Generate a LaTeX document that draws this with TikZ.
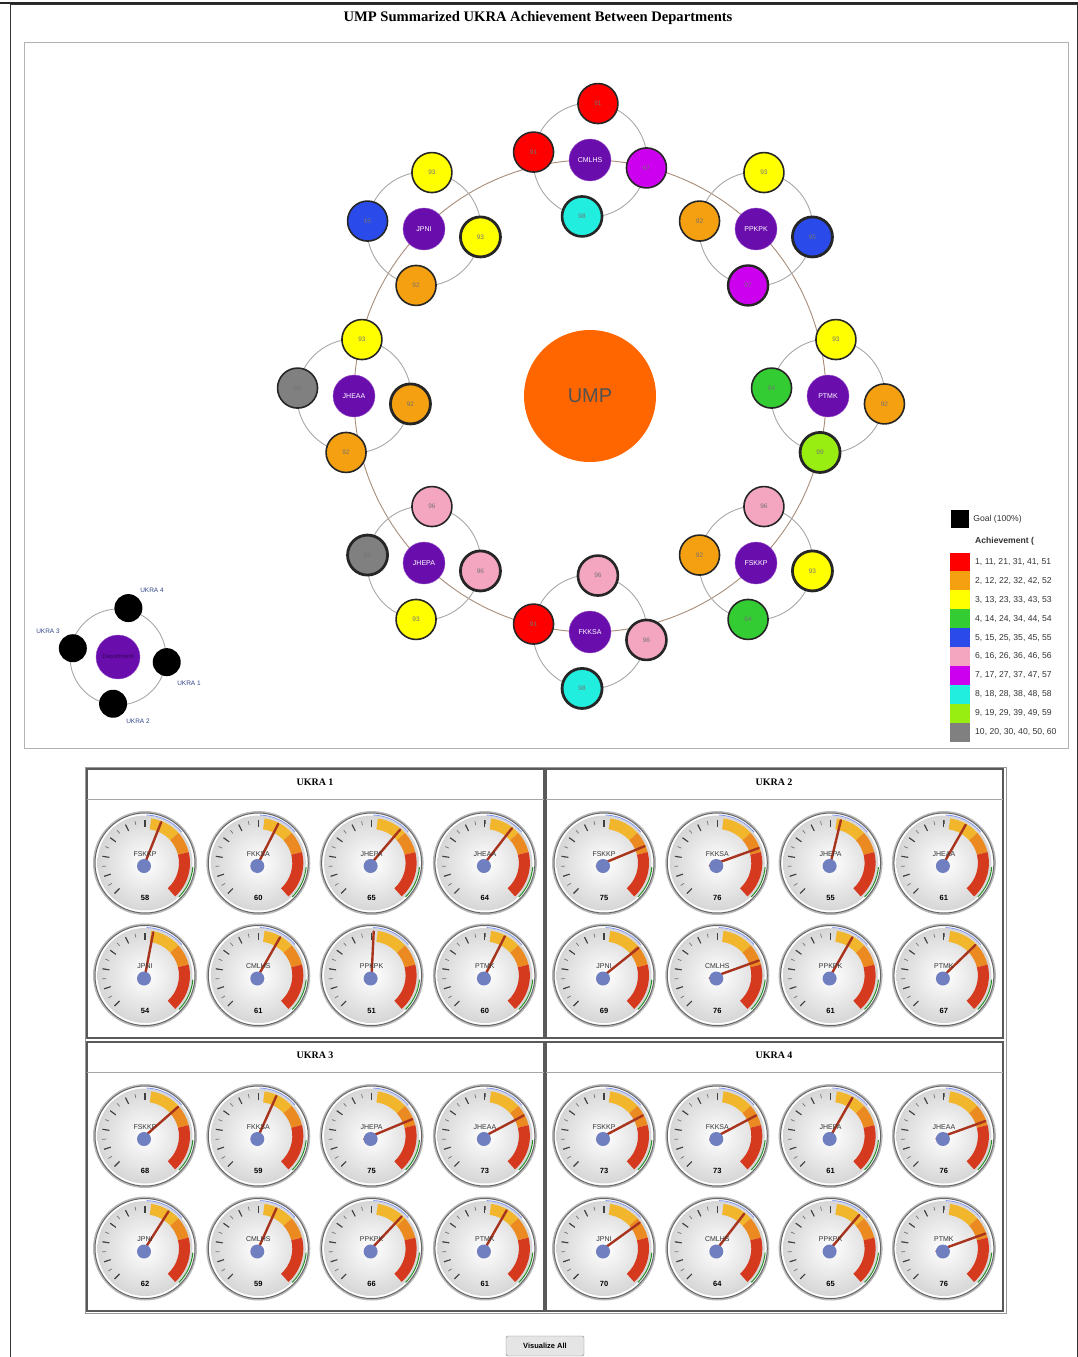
\documentclass[tikz,border=0pt]{standalone}
\usepackage{fontspec}
\setmainfont{Liberation Serif}
\setsansfont{Liberation Sans}
\usetikzlibrary{positioning,calc}
\definecolor{umporange}{HTML}{FF6600}
\definecolor{dept}{HTML}{6A0DAD}
\definecolor{ared}{HTML}{FF0000}
\definecolor{aorange}{HTML}{F5A011}
\definecolor{ayellow}{HTML}{FFFF00}
\definecolor{agreen}{HTML}{33CC33}
\definecolor{ablue}{HTML}{2A4BEA}
\definecolor{apink}{HTML}{F4A6C0}
\definecolor{amagenta}{HTML}{CC00EE}
\definecolor{acyan}{HTML}{22EEE0}
\definecolor{alime}{HTML}{99EE11}
\definecolor{agray}{HTML}{808080}
\definecolor{ringgray}{HTML}{A8A8A8}
\definecolor{bigring}{HTML}{A88C78}
\definecolor{ink}{HTML}{333333}
\definecolor{ukra}{HTML}{33448A}
\definecolor{needle}{HTML}{A8341E}
\definecolor{hub}{HTML}{6F7FC0}
\definecolor{bandyel}{HTML}{F2B62C}
\definecolor{bandorg}{HTML}{EA8A20}
\definecolor{bandred}{HTML}{D53A1F}
\tikzset{
  x=1pt,y=1pt,
  every node/.style={font=\sffamily,text=ink},
  deptnode/.style={circle,fill=dept,draw=dept!70!white,minimum size=42pt,inner sep=0pt,text=white,font=\sffamily\fontsize{7}{8}\selectfont},
  achnode/.style={circle,draw=black!85,line width=1.6pt,minimum size=40pt,inner sep=0pt,text=black!55,font=\sffamily\fontsize{6.5}{7}\selectfont},
  umpnode/.style={circle,fill=umporange,minimum size=132pt,inner sep=0pt,text=ink!85,font=\sffamily\fontsize{20}{22}\selectfont},
  keynode/.style={circle,fill=black,minimum size=28pt,inner sep=0pt},
  keytext/.style={text=ukra,font=\sffamily\fontsize{6.5}{7}\selectfont,inner sep=1pt},
  clusterring/.style={draw=ringgray,line width=0.9pt},
  mainring/.style={draw=bigring,line width=0.9pt},
  legsq/.style={minimum width=20pt,minimum height=19pt,inner sep=0pt},
  legtext/.style={text=ink,font=\sffamily\fontsize{8.6}{9}\selectfont,inner sep=1pt},
  quadframe/.style={draw=black!65,line width=2pt},
  headline/.style={draw=black!35,line width=1pt},
  quadtitle/.style={font=\rmfamily\bfseries\fontsize{10}{12}\selectfont,text=black},
  bezel/.style={draw=black!60,line width=1pt,fill=white},
  tickmark/.style={draw=black!55,line width=0.7pt},
  majortick/.style={draw=black!75,line width=1.1pt},
  needlestroke/.style={draw=needle,line width=2.4pt,line cap=round},
  dialtext/.style={font=\sffamily\fontsize{7}{8}\selectfont,text=ink,inner sep=0pt},
  dialvalue/.style={font=\sffamily\bfseries\fontsize{7.5}{8}\selectfont,text=black,inner sep=0pt},
  button/.style={draw=black!50,fill=black!10,rounded corners=1.5pt,minimum width=78pt,minimum height=20pt,font=\sffamily\bfseries\fontsize{7.5}{8}\selectfont,text=black},
}
\newcommand{\gaugedial}[4]{% #1 name, #2 centre, #3 department, #4 value
  \begin{scope}[shift={(#2)}]
    \fill[black!28] (0,0) circle (52);
    \draw[bezel] (0,0) circle (50);
    \shade[inner color=white,outer color=black!16] (0,0) circle (47.5);
    \foreach \tk in {0,5,...,50} {\draw[tickmark] ({225-2.7*\tk}:39) -- ({225-2.7*\tk}:43);}
    \foreach \tk in {0,10,...,50} {\draw[majortick] ({225-2.7*\tk}:36) -- ({225-2.7*\tk}:43);}
    \fill[bandyel] (82:45) arc[start angle=82,end angle=42,radius=45] -- (42:34) arc[start angle=42,end angle=82,radius=34] -- cycle;
    \fill[bandorg] (42:45) arc[start angle=42,end angle=14,radius=45] -- (14:34) arc[start angle=14,end angle=42,radius=34] -- cycle;
    \fill[bandred] (14:45) arc[start angle=14,end angle=-48,radius=45] -- (-48:34) arc[start angle=-48,end angle=14,radius=34] -- cycle;
    \draw[agreen!70!black,line width=1pt] (-5:48) arc[start angle=-5,end angle=-45,radius=48];
    \draw[ablue!60,line width=0.8pt] (88:48) arc[start angle=88,end angle=40,radius=48];
    \draw[needlestroke] ({45-2.7*#4}:8) -- ({225-2.7*#4}:44);
    \fill[hub] (-1,-3) circle (7);
    \node[dialtext] (#1-dept) at (0,9) {#3};
    \node[dialvalue] (#1-value) at (0,-35) {#4};
  \end{scope}}

\begin{document}
\begin{tikzpicture}
\useasboundingbox (0,0) rectangle (1078,-1357);

% Page frame and title
\draw[black!80,line width=0.8pt] (10,-1357) -- (10,-4) -- (1077,-4) -- (1077,-1357);
\draw[black!85,line width=2pt] (0,-3) -- (1078,-3);
\node[font=\rmfamily\bfseries\fontsize{14.6}{16}\selectfont,text=black] (title) at (538,-18) {UMP Summarized UKRA Achievement Between Departments};

% Network panel
\draw[black!30,line width=0.8pt] (24,-42) rectangle (1068,-748);
\coordinate (hubc) at (590,-396);
\draw[mainring] (hubc) circle (236);
\node[umpnode] (ump) at (hubc) {UMP};

% Clusters: top, left, bottom, right
\foreach \n/\cx/\cy/\outs in {
  CMLHS/590/160/{ared/91/1.6,ared/91/1.6,acyan/98/2.6,amagenta/97/1.6},
  PPKPK/756/229/{ayellow/93/1.6,aorange/92/1.6,amagenta/97/2.4,ablue/95/2.8},
  PTMK/828/396/{ayellow/93/1.6,agreen/94/1.6,alime/99/2.8,aorange/92/1.6},
  FSKKP/756/563/{apink/96/1.6,aorange/92/1.6,agreen/94/1.6,ayellow/93/2.8},
  FKKSA/590/632/{apink/96/2.6,ared/91/1.6,acyan/98/2.8,apink/96/2.6},
  JHEPA/424/563/{apink/96/1.6,agray/90/2.8,ayellow/93/1.6,apink/96/2.8},
  JHEAA/354/396/{ayellow/93/1.6,agray/90/1.6,aorange/92/1.6,aorange/92/2.8},
  JPNI/424/229/{ayellow/93/1.6,ablue/95/1.6,aorange/92/1.6,ayellow/93/2.8}} {
  \coordinate (\n) at (\cx,-\cy);
  \draw[clusterring] (\n) circle (57);
  \node[deptnode] (\n-c) at (\n) {\n};
  \foreach \c/\v/\w [count=\k] in \outs {
    \node[achnode,fill=\c,line width=\w pt] (\n-\k) at ($(\n)+({82+90*(\k-1)}:57)$) {\v};
  }
}

% Key (left)
\coordinate (keyc) at (118,-657);
\draw[clusterring] (keyc) circle (48);
\node[deptnode,minimum size=44pt,font=\sffamily\fontsize{6}{7}\selectfont,text=dept!50!black] (keydept) at (keyc) {Department};
\node[keynode] (ukra1) at ($(keyc)+(-6:49)$) {};
\node[keynode] (ukra2) at ($(keyc)+(264:47)$) {};
\node[keynode] (ukra3) at ($(keyc)+(169:46)$) {};
\node[keynode] (ukra4) at ($(keyc)+(78:50)$) {};
\node[keytext] (lab1) at (189,-683) {UKRA 1};
\node[keytext] (lab2) at (138,-721) {UKRA 2};
\node[keytext] (lab3) at (48,-631) {UKRA 3};
\node[keytext] (lab4) at (152,-590) {UKRA 4};

% Legend (right)
\node[legsq,fill=black,minimum height=18pt,minimum width=18pt] (goal) at (960,-519) {};
\node[legtext,right=3pt of goal] (goaltxt) {Goal (100\%)};
\node[legtext,font=\sffamily\bfseries\fontsize{8.6}{9}\selectfont,anchor=west] (achtitle) at (974,-541) {Achievement (};
\foreach \c/\t [count=\i] in {ared/{1, 11, 21, 31, 41, 51},aorange/{2, 12, 22, 32, 42, 52},ayellow/{3, 13, 23, 33, 43, 53},agreen/{4, 14, 24, 34, 44, 54},ablue/{5, 15, 25, 35, 45, 55},apink/{6, 16, 26, 36, 46, 56},amagenta/{7, 17, 27, 37, 47, 57},acyan/{8, 18, 28, 38, 48, 58},alime/{9, 19, 29, 39, 49, 59},agray/{10, 20, 30, 40, 50, 60}} {
  \node[legsq,fill=\c] (leg\i) at (960,{-562-18.9*(\i-1)}) {};
  \node[legtext,anchor=west] (legt\i) at (974,{-562-18.9*(\i-1)}) {\t};
}

% Gauge panels
\draw[black!40,line width=0.8pt] (85,-767) rectangle (1006,-1313);
\foreach \px/\py/\ukr/\vals [count=\p] in {
  87/769/UKRA 1/{FSKKP/58,FKKSA/60,JHEPA/65,JHEAA/64,JPNI/54,CMLHS/61,PPKPK/51,PTMK/60},
  546/769/UKRA 2/{FSKKP/75,FKKSA/76,JHEPA/55,JHEAA/61,JPNI/69,CMLHS/76,PPKPK/61,PTMK/67},
  87/1042/UKRA 3/{FSKKP/68,FKKSA/59,JHEPA/75,JHEAA/73,JPNI/62,CMLHS/59,PPKPK/66,PTMK/61},
  546/1042/UKRA 4/{FSKKP/73,FKKSA/73,JHEPA/61,JHEAA/76,JPNI/70,CMLHS/64,PPKPK/65,PTMK/76}} {
  \draw[quadframe] (\px,-\py) rectangle ++(457,-269);
  \draw[headline] (\px,{-\py-30}) -- ++(457,0);
  \node[quadtitle] (quad\p) at ({\px+228},{-\py-13}) {\ukr};
  \foreach \d/\v [count=\k] in \vals {
    \pgfmathsetmacro{\gx}{\px+58+113.3*mod(\k-1,4)}
    \pgfmathsetmacro{\gy}{-\py-94-112.5*floor((\k-1)/4)}
    \gaugedial{g\p-\k}{\gx,\gy}{\d}{\v}
  }
}

% Button
\node[button] (visall) at (545,-1346) {Visualize All};

\end{tikzpicture}
\end{document}
